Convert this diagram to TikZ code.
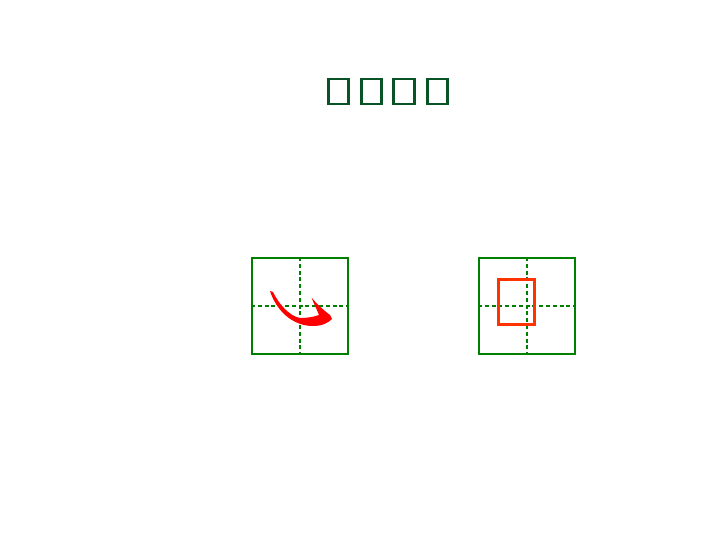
\documentclass[tikz,border=0pt]{standalone}
\definecolor{titlegreen}{RGB}{8,84,38}
\definecolor{redorange}{RGB}{255,51,0}
\definecolor{gridgreen}{RGB}{0,128,0}
\begin{document}
\begin{tikzpicture}[x=1pt,y=-1pt,
  gridbox/.style={draw=gridgreen, line width=2pt, minimum width=96pt, minimum height=96pt, inner sep=0pt},
  midline/.style={draw=gridgreen, line width=2pt, dash pattern=on 4pt off 2.8pt},
  tofu/.style={draw=titlegreen, line width=2.6pt, minimum width=20.5pt, minimum height=25pt, inner sep=0pt},
  redbox/.style={draw=redorange, line width=3pt, minimum width=36pt, minimum height=45pt, inner sep=0pt}]
\useasboundingbox (0,0) rectangle (720,540);
% title glyph boxes
\node[tofu] (t1) at (338.5,91.5) {};
\node[tofu] (t2) at (371.5,91.5) {};
\node[tofu] (t3) at (404,91.5) {};
\node[tofu] (t4) at (437.5,91.5) {};
% left grid
\node[gridbox] (L) at (300,306) {};
\draw[midline] (L.north) -- (L.south);
\draw[midline] (L.west) -- (L.east);
% stroke
\fill[red] (270,291) .. controls (276,310) and (292,326) .. (313,326)
  .. controls (322,326) and (328,323) .. (332,319)
  -- (330,315) .. controls (322,309) and (316,303) .. (311.5,297.5)
  .. controls (314,304) and (317,310) .. (319,315)
  .. controls (312,317.5) and (305,318) .. (300,318)
  .. controls (290,316) and (280,306) .. (273,292) -- cycle;
% right grid
\node[gridbox] (R) at (527,306) {};
\draw[midline] (R.north) -- (R.south);
\draw[midline] (R.west) -- (R.east);
\node[redbox] (rb) at (516,301.5) {};
\end{tikzpicture}
\end{document}
